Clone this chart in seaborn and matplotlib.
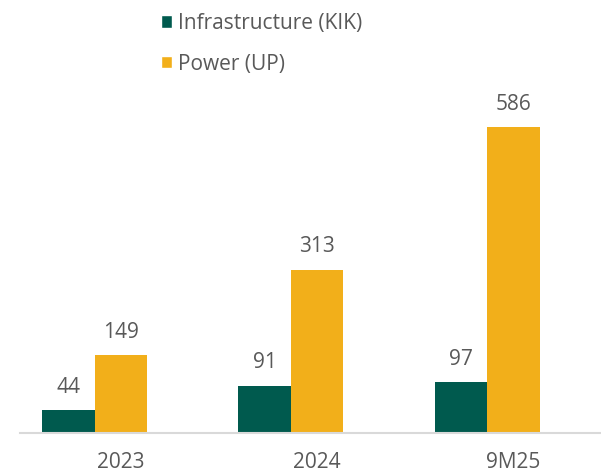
import matplotlib
matplotlib.use("Agg")
import matplotlib.pyplot as plt
import matplotlib.transforms as mtransforms
import seaborn as sns
import pandas as pd
from matplotlib.patches import Patch

categories = ["2023", "2024", "9M25"]
series_names = ["Infrastructure (KIK)", "Power (UP)"]
infra = [44, 91, 97]
power = [149, 313, 586]
colors = ["#005a4e", "#f2af1a"]
text_color = "#595959"

df = pd.DataFrame({
    "cat": categories * 2,
    "series": [series_names[0]] * 3 + [series_names[1]] * 3,
    "value": infra + power,
})

sns.set_style("white")
plt.rcParams["font.family"] = ["Open Sans", "DejaVu Sans"]

fig = plt.figure(figsize=(6.01, 4.74), dpi=100)
ax = fig.add_axes([20 / 601, 41 / 474, 1 - 20 / 601, 365 / 474])
sns.barplot(data=df, x="cat", y="value", hue="series", palette=colors,
            width=0.535, gap=0, ax=ax, legend=False, saturation=1,
            linewidth=0, edgecolor="none")

for cont in ax.containers:
    ax.bar_label(cont, padding=9, fontsize=15, color=text_color)

ax.set_ylim(0, 700)
ax.set_xlim(-0.38, 2.58)
ax.set_xlabel("")
ax.set_ylabel("")
ax.set_yticks([])
for s in ["top", "right", "left"]:
    ax.spines[s].set_visible(False)
ax.spines["bottom"].set_color("#d9d9d9")
ax.spines["bottom"].set_linewidth(1.5)
ax.tick_params(axis="x", length=0, pad=14, labelsize=15, labelcolor=text_color)
offset = mtransforms.ScaledTranslation(26 / 100, 0, fig.dpi_scale_trans)
for lab in ax.get_xticklabels():
    lab.set_transform(lab.get_transform() + offset)

handles = [Patch(facecolor=c, label=n) for c, n in zip(colors, series_names)]
fig.legend(handles=handles, loc="upper left", bbox_to_anchor=(142 / 601, 1 + 6 / 474),
           frameon=False, fontsize=15, labelcolor=text_color, handlelength=0.55,
           handleheight=0.55, handletextpad=0.3, labelspacing=0.95)

fig.savefig("out.png", dpi=100)
